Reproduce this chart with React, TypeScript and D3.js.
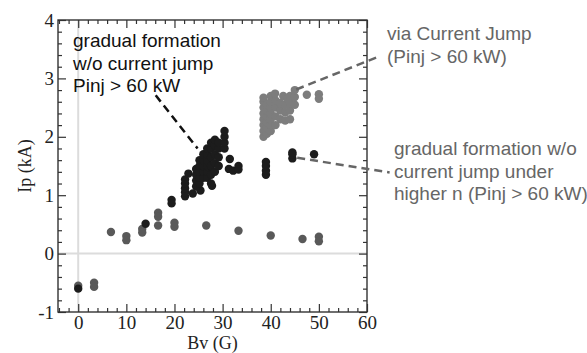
import React, { useRef, useEffect } from 'react';
import * as d3 from 'd3';

type Pt = [number, number];

// Bv (G), Ip (kA)
const lowPoints: Pt[] = [
  [0, -0.55], [3.3, -0.5], [3.3, -0.57], [6.8, 0.37], [10, 0.3], [10, 0.23],
  [13.3, 0.42], [13.3, 0.36], [16.6, 0.7], [16.6, 0.63], [16.6, 0.48],
  [20, 0.53], [20, 0.46], [26.6, 0.48], [33.3, 0.39], [40, 0.31],
  [46.6, 0.25], [50, 0.29], [50, 0.21],
];

const gradualPoints: Pt[] = [
  [0, -0.6], [14, 0.51], [19.4, 0.92], [19.4, 0.86],
  [22.2, 0.98], [22.2, 1.05], [22.2, 1.12], [22.2, 1.2], [22.2, 1.27],
  [22.9, 1.37], [23.8, 1.03], [25.4, 1.08],
  [24.5, 1.15], [24.5, 1.25], [24.5, 1.35], [24.5, 1.45],
  [25.2, 1.2], [25.2, 1.3], [25.2, 1.4], [25.2, 1.5], [25.2, 1.6],
  [26, 1.3], [26, 1.4], [26, 1.5], [26, 1.6], [26, 1.7],
  [26.8, 1.3], [26.8, 1.4], [26.8, 1.5], [26.8, 1.6], [26.8, 1.7], [26.8, 1.8],
  [27.6, 1.2], [27.6, 1.35], [27.6, 1.5], [27.6, 1.65], [27.6, 1.8], [27.6, 1.9],
  [27.8, 1.16],
  [28.4, 1.4], [28.4, 1.55], [28.4, 1.7], [28.4, 1.85], [28.4, 1.95],
  [29.2, 1.5], [29.2, 1.65], [29.2, 1.8], [29.2, 1.9],
  [30.4, 1.8], [30.4, 1.9], [30.4, 2.0], [30.4, 2.1],
  [31.5, 1.62], [31.3, 1.45], [32.2, 1.42], [33.3, 1.5], [33.3, 1.44],
  [39, 1.35], [39, 1.42], [39, 1.5], [39, 1.57],
  [44.5, 1.63], [44.5, 1.7], [44.5, 1.73], [49, 1.7],
];

const jumpPoints: Pt[] = [
  [38.5, 2.0], [38.5, 2.1], [38.5, 2.2], [38.5, 2.3], [38.5, 2.4], [38.5, 2.5], [38.5, 2.6], [38.5, 2.67],
  [39.2, 2.05], [39.2, 2.15], [39.2, 2.25], [39.2, 2.35], [39.2, 2.45], [39.2, 2.55],
  [40, 2.1], [40, 2.2], [40, 2.3], [40, 2.4], [40, 2.5], [40, 2.6], [40, 2.7],
  [41, 2.2], [41, 2.35], [41, 2.5], [41, 2.62], [40.9, 2.74],
  [42, 2.3], [42, 2.45], [42, 2.58], [42.6, 2.7],
  [43, 2.28], [43, 2.42], [43, 2.55], [43.5, 2.65],
  [44, 2.3], [44, 2.45], [44, 2.58], [44, 2.7],
  [45, 2.55], [45, 2.68], [45, 2.8],
  [47.5, 2.72], [50, 2.73], [50, 2.65],
];

const xTicks = [0, 10, 20, 30, 40, 50, 60];
const yTicks = [-1, 0, 1, 2, 3, 4];

const App: React.FC = () => {
  const ref = useRef<SVGSVGElement | null>(null);

  useEffect(() => {
    if (!ref.current) return;
    const svg = d3.select(ref.current);
    svg.selectAll('*').remove();

    const left = 58, right = 367, top = 20, bottom = 312;

    const x = d3.scaleLinear().domain([-4.2, 60]).range([left, right]);
    const y = d3.scaleLinear().domain([-1, 4]).range([bottom, top]);

    // zero lines
    svg.append('line')
      .attr('x1', x(0)).attr('x2', x(0)).attr('y1', top).attr('y2', bottom)
      .attr('stroke', '#dcdcdc').attr('stroke-width', 2);
    svg.append('line')
      .attr('x1', left).attr('x2', right).attr('y1', y(0)).attr('y2', y(0))
      .attr('stroke', '#dcdcdc').attr('stroke-width', 2);

    const xMinor = d3.range(-4, 61, 2).filter(v => v % 10 !== 0);
    const yMinor = d3.range(-10, 41, 2).map(v => v / 10).filter(v => Math.abs(v % 1) > 0.01);
    const fmt = (d: d3.NumberValue) => String(d);

    const style = (g: d3.Selection<SVGGElement, unknown, null, undefined>) => {
      g.select('.domain').remove();
      g.selectAll('.tick line').attr('stroke', '#333').attr('stroke-width', 1.2);
      g.attr('font-family', '"Liberation Serif", serif').attr('font-size', 19);
      g.selectAll('.tick text').attr('fill', '#222');
    };

    // bottom
    svg.append('g').attr('transform', `translate(0,${bottom})`)
      .call(d3.axisBottom(x).tickValues(xTicks).tickSize(-8).tickPadding(4).tickFormat(fmt))
      .call(style);
    svg.append('g').attr('transform', `translate(0,${bottom})`)
      .call(d3.axisBottom(x).tickValues(xMinor).tickSize(-4).tickFormat(() => ''))
      .call(style);
    // top
    svg.append('g').attr('transform', `translate(0,${top})`)
      .call(d3.axisTop(x).tickValues(xTicks).tickSize(-8).tickFormat(() => ''))
      .call(style);
    svg.append('g').attr('transform', `translate(0,${top})`)
      .call(d3.axisTop(x).tickValues(xMinor).tickSize(-4).tickFormat(() => ''))
      .call(style);
    // left
    svg.append('g').attr('transform', `translate(${left},0)`)
      .call(d3.axisLeft(y).tickValues(yTicks).tickSize(-8).tickPadding(4).tickFormat(fmt))
      .call(style);
    svg.append('g').attr('transform', `translate(${left},0)`)
      .call(d3.axisLeft(y).tickValues(yMinor).tickSize(-4).tickFormat(() => ''))
      .call(style);
    // right
    svg.append('g').attr('transform', `translate(${right},0)`)
      .call(d3.axisRight(y).tickValues(yTicks).tickSize(-8).tickFormat(() => ''))
      .call(style);
    svg.append('g').attr('transform', `translate(${right},0)`)
      .call(d3.axisRight(y).tickValues(yMinor).tickSize(-4).tickFormat(() => ''))
      .call(style);

    svg.append('rect')
      .attr('x', left).attr('y', top).attr('width', right - left).attr('height', bottom - top)
      .attr('fill', 'none').attr('stroke', '#333').attr('stroke-width', 1.4);

    // axis titles
    svg.append('text')
      .attr('x', (left + right) / 2).attr('y', 349)
      .attr('text-anchor', 'middle')
      .attr('font-family', '"Liberation Serif", serif').attr('font-size', 18)
      .attr('fill', '#222')
      .text('Bv (G)');
    svg.append('text')
      .attr('transform', `translate(31,${(top + bottom) / 2}) rotate(-90)`)
      .attr('text-anchor', 'middle')
      .attr('font-family', '"Liberation Serif", serif').attr('font-size', 18)
      .attr('fill', '#222')
      .text('Ip (kA)');

    // points
    const drawPts = (pts: Pt[], color: string) => {
      svg.append('g')
        .selectAll('circle')
        .data(pts)
        .join('circle')
          .attr('cx', d => x(d[0]))
          .attr('cy', d => y(d[1]))
          .attr('r', 4.2)
          .attr('fill', color);
    };
    drawPts(lowPoints, '#595959');
    drawPts(jumpPoints, '#7d7d7d');
    drawPts(gradualPoints, '#1c1c1c');

    // annotations
    const dash = (a: Pt, b: Pt, color: string) => {
      svg.append('line')
        .attr('x1', x(a[0])).attr('y1', y(a[1]))
        .attr('x2', x(b[0])).attr('y2', y(b[1]))
        .attr('stroke', color).attr('stroke-width', 2.5)
        .attr('stroke-dasharray', '8,5');
    };
    dash([16.1, 2.71], [24.8, 1.8], '#111');
    dash([45.3, 2.81], [62.0, 3.36], '#666');
    dash([45.5, 1.64], [64.7, 1.39], '#666');

    const label = (lines: string[], px: number, py: number, color: string) => {
      const t = svg.append('text')
        .attr('font-family', '"Liberation Sans", Arial, sans-serif')
        .attr('font-size', 19)
        .attr('fill', color);
      lines.forEach((s, i) => {
        t.append('tspan').attr('x', px).attr('y', py + i * 22.6).text(s);
      });
    };
    label(['gradual formation', 'w/o current jump', 'Pinj > 60 kW'], 73, 47, '#111');
    label(['via Current Jump', '(Pinj > 60 kW)'], 387, 40, '#666');
    label(['gradual formation w/o', 'current jump under', 'higher n (Pinj > 60 kW)'], 394, 155, '#666');
  }, []);

  return (
    <svg
      ref={ref}
      width={587}
      height={353}
      style={{ position: 'absolute', left: 0, top: 0, background: '#fff' }}
    />
  );
};

export default App;
